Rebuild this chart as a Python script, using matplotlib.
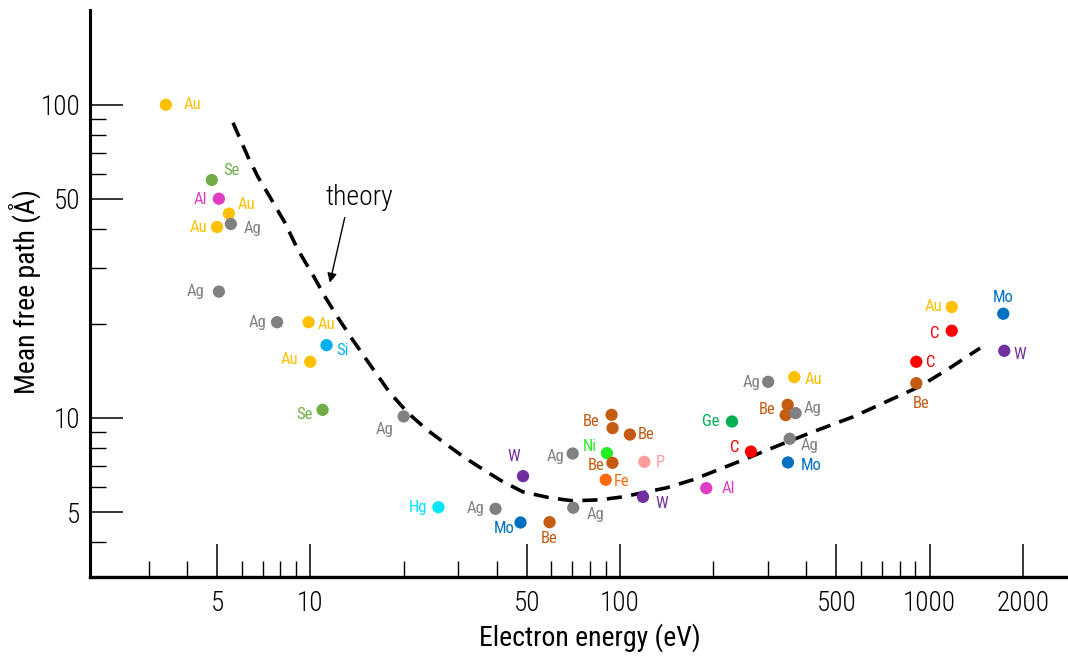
import matplotlib
matplotlib.use('Agg')
import matplotlib.pyplot as plt
from matplotlib.ticker import FixedLocator, NullFormatter, FixedFormatter

plt.rcParams['font.family'] = ['Roboto Condensed', 'Archivo Narrow', 'DejaVu Sans']
plt.rcParams['font.weight'] = 'light'

# Measured inelastic mean free paths (element, energy in eV, path in Angstrom)
elements = ['Au', 'Se', 'Al', 'Au', 'Au', 'Ag', 'Ag', 'Ag', 'Au', 'Si', 'Au', 'Se', 'Ag',
            'W', 'Hg', 'Ag', 'Mo', 'Be', 'Ag', 'Ag', 'Be', 'Be', 'Be', 'Ni', 'Be', 'P', 'Fe', 'W',
            'Al', 'C', 'Ge', 'Mo', 'Ag', 'Be', 'Be', 'Ag', 'Ag', 'Au',
            'Be', 'C', 'C', 'Au', 'Mo', 'W']
energy = [3.41, 4.80, 5.06, 5.45, 4.99, 5.53, 5.06, 7.80, 9.86, 11.27, 9.98, 10.94, 20.0,
          48.6, 25.9, 39.6, 47.7, 59.2, 70.6, 70.3, 93.9, 94.6, 107.6, 90.7, 94.5, 119.8, 89.9, 118.6,
          189.9, 264.8, 229.9, 348.6, 353.2, 347.9, 342.8, 369.0, 301.0, 365.5,
          906.0, 906.0, 1179.0, 1179.0, 1730.0, 1743.0]
path = [100.0, 57.5, 50.1, 44.9, 40.7, 41.6, 25.3, 20.2, 20.2, 17.06, 15.1, 10.6, 10.1,
        6.51, 5.18, 5.12, 4.63, 4.64, 5.16, 7.69, 10.22, 9.27, 8.84, 7.71, 7.18, 7.23, 6.34, 5.59,
        5.96, 7.80, 9.73, 7.20, 8.57, 11.0, 10.2, 10.35, 13.03, 13.49,
        12.9, 15.1, 18.97, 22.6, 21.5, 16.37]
show_label = [True] * len(elements)
show_label[21] = False
show_label[34] = False

# label offsets from each dot, in points
offsets = [(19, 0), (14, 6.5), (-13, -0.5), (13, 6.5), (-13.5, -0.5), (15.5, -3.5), (-17, 0),
           (-14, -0.5), (13, -1.5), (11.5, -3.5), (-15, 1.5), (-13, -3.5), (-13.5, -9.5),
           (-6.5, 14.5), (-15, 0), (-14.5, 0), (-12, -4.5), (0, -12), (16, -5), (-12, -2),
           (-15, -4.5), (0, 0), (12, 0), (-12, 4.5), (-12, -2), (11.5, -0.5), (11.5, -1.5),
           (13.5, -5), (16, -0.5), (-11.5, 3), (-15, 0), (17, -2), (14.5, -5), (-14.5, -3.5),
           (0, 0), (12, 3.5), (-12, -0.5), (13.5, -2), (3.5, -14.5), (10, -0.5), (-12, -2),
           (-13, 0), (0, 12), (11, -3)]

colors = {'Au': '#FFC000', 'Ag': '#808080', 'Se': '#70AD47', 'Al': '#E03CC4',
          'Si': '#00B0F0', 'Hg': '#00E5FA', 'Mo': '#0070C0', 'Be': '#C55A11',
          'W': '#7030A0', 'Ni': '#22EE22', 'P': '#FF9C9C', 'Fe': '#FF6A10',
          'Ge': '#00B050', 'C': '#FF0000'}

# Theoretical universal curve, traced point by point
theory_e = [5.62, 6.28, 6.76, 7.39, 8.27, 9.11, 10.18, 11.13, 12.26, 13.71, 15.33, 18.05,
            20.64, 23.77, 27.59, 31.54, 37.14, 41.84, 48.56, 59.36, 70.4, 86.1, 102.2,
            141.8, 172, 199.7, 250, 329, 420, 566, 745, 931, 1165, 1456]
theory_l = [87.6, 68.2, 58.9, 50.8, 41.98, 34.4, 28.6, 24.4, 20.9, 17.7, 15.1, 12.02,
            10.37, 9.16, 8.20, 7.45, 6.72, 6.25, 5.80, 5.55, 5.43, 5.47, 5.59,
            5.98, 6.34, 6.72, 7.34, 8.20, 9.02, 10.07, 11.4, 12.6, 14.45, 16.7]

x_major = [5, 10, 50, 100, 500, 1000, 2000]
x_minor = [3, 4, 6, 7, 8, 9, 20, 30, 40, 60, 70, 80, 90, 200, 300, 400, 600, 700, 800, 900]
y_major = [5, 10, 50, 100]
y_minor = [4, 6, 7, 8, 9, 20, 30, 40, 60, 70, 80, 90]

fig = plt.figure(figsize=(10.68, 6.56), dpi=100)
ax = fig.add_axes([0.0843, 0.1204, 0.9157, 0.8646])
ax.set_xscale('log')
ax.set_yscale('log')
ax.set_xlim(1.94, 2800)
ax.set_ylim(3.1, 201)

ax.plot(theory_e, theory_l, color='black', lw=2.6, dashes=(4.2, 2.6), zorder=2)

for el, e, l, show, (dx, dy) in zip(elements, energy, path, show_label, offsets):
    c = colors[el]
    ax.scatter(e, l, s=78, color=c, edgecolors='none', zorder=3)
    if show:
        ax.annotate(el, (e, l), xytext=(dx, dy), textcoords='offset points',
                    ha='center', va='center', fontsize=12, fontweight='normal', color=c)

ax.text(11.2, 50.5, 'theory', fontsize=20, ha='left', va='center')
ax.annotate('', xy=(11.55, 27.0), xytext=(12.9, 43.6),
            arrowprops=dict(arrowstyle='-|>', color='black', lw=1.0,
                            mutation_scale=14, shrinkA=0, shrinkB=0))

for side in ['top', 'right']:
    ax.spines[side].set_visible(False)
ax.spines['left'].set_linewidth(2.2)
ax.spines['bottom'].set_linewidth(2.4)

ax.xaxis.set_major_locator(FixedLocator(x_major))
ax.xaxis.set_major_formatter(FixedFormatter([str(v) for v in x_major]))
ax.xaxis.set_minor_locator(FixedLocator(x_minor))
ax.xaxis.set_minor_formatter(NullFormatter())
ax.yaxis.set_major_locator(FixedLocator(y_major))
ax.yaxis.set_major_formatter(FixedFormatter([str(v) for v in y_major]))
ax.yaxis.set_minor_locator(FixedLocator(y_minor))
ax.yaxis.set_minor_formatter(NullFormatter())

ax.tick_params(which='major', direction='in', length=23.5, width=1.1, labelsize=19.5)
ax.tick_params(which='minor', direction='in', length=11.5, width=1.0)
ax.tick_params(axis='x', which='major', pad=9)
ax.tick_params(axis='y', which='major', pad=7)

ax.set_xlabel('Electron energy (eV)', fontsize=20, va='center')
ax.xaxis.set_label_coords(0.511, -0.1076)
ax.set_ylabel('Mean free path (Å)', fontsize=20, va='center')
ax.yaxis.set_label_coords(-0.0665, 0.5026)

fig.savefig('out.png', dpi=100)
